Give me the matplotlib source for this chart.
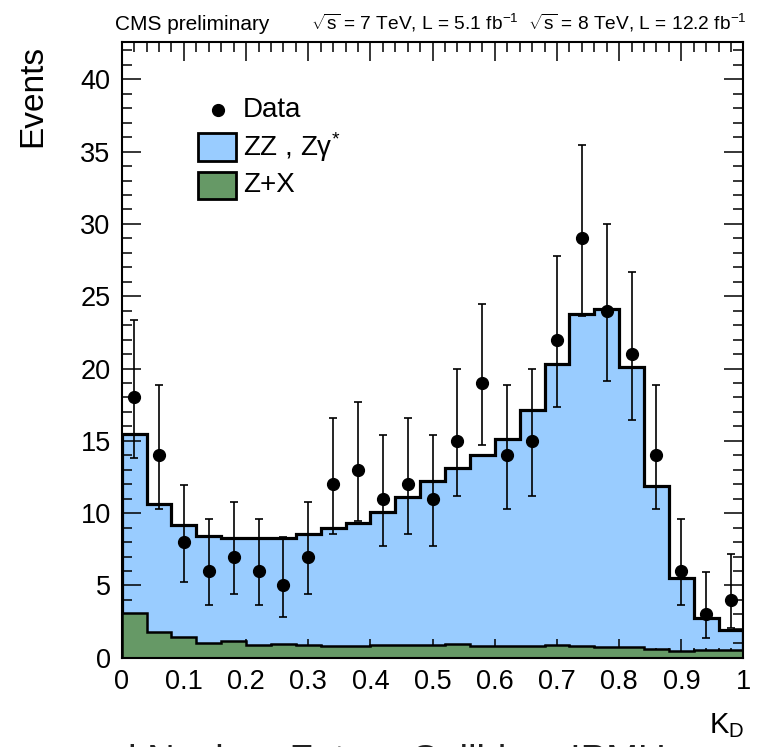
import math
import numpy as np
import matplotlib
matplotlib.use("Agg")
import matplotlib.pyplot as plt
from matplotlib.patches import Rectangle
from matplotlib.ticker import MultipleLocator

plt.rcParams['font.family'] = ['Liberation Sans', 'DejaVu Sans']
plt.rcParams['mathtext.fontset'] = 'custom'
plt.rcParams['mathtext.rm'] = 'Liberation Sans'
plt.rcParams['mathtext.it'] = 'Liberation Sans:italic'
plt.rcParams['mathtext.bf'] = 'Liberation Sans:bold'
plt.rcParams['mathtext.default'] = 'regular'

# ---------------- data ----------------
n_bins = 25
x_range = (0.0, 1.0)
zz_total = [15.5, 10.65, 9.2, 8.4, 8.3, 8.3, 8.3, 8.55, 8.95, 9.35, 10.1, 11.1,
            12.25, 13.15, 14.05, 15.1, 17.1, 20.3, 23.8, 24.1, 20.1, 11.9, 5.5, 2.75, 1.9]
zx = [3.1, 1.8, 1.45, 1.05, 1.15, 0.85, 0.92, 0.85, 0.8, 0.8, 0.85, 0.85,
      0.85, 0.92, 0.82, 0.82, 0.82, 0.9, 0.8, 0.72, 0.72, 0.6, 0.45, 0.55, 0.55]
data = [18, 14, 8, 6, 7, 6, 5, 7, 12, 13, 11, 12, 11, 15, 19, 14, 15, 22, 29, 24,
        21, 14, 6, 3, 4]
x_ticks = [0, 0.1, 0.2, 0.3, 0.4, 0.5, 0.6, 0.7, 0.8, 0.9, 1.0]
x_tick_labels = ['0', '0.1', '0.2', '0.3', '0.4', '0.5', '0.6', '0.7', '0.8', '0.9', '1']
y_ticks = [0, 5, 10, 15, 20, 25, 30, 35, 40]
y_tick_labels = ['0', '5', '10', '15', '20', '25', '30', '35', '40']

# ---------------- Garwood (68.3%) Poisson intervals ----------------
ALPHA2 = 0.5 * (1 - 0.682689)


def pois_cdf(k, mu):
    if k < 0:
        return 0.0
    term = math.exp(-mu)
    s = term
    for i in range(1, k + 1):
        term *= mu / i
        s += term
    return s


def bisect(f, lo, hi):
    for _ in range(100):
        mid = 0.5 * (lo + hi)
        if f(mid) > 0:
            hi = mid
        else:
            lo = mid
    return 0.5 * (lo + hi)


def garwood(n):
    if n == 0:
        lo = 0.0
    else:
        lo = bisect(lambda m: (1 - pois_cdf(n - 1, m)) - ALPHA2, 0.0, n + 50)
    up = bisect(lambda m: ALPHA2 - pois_cdf(n, m), 0.0, n + 50)
    return lo, up


edges = np.linspace(x_range[0], x_range[1], n_bins + 1)
centers = 0.5 * (edges[:-1] + edges[1:])
intervals = [garwood(n) for n in data]
err_lo = [n - lo for n, (lo, up) in zip(data, intervals)]
err_hi = [up - n for n, (lo, up) in zip(data, intervals)]

# ---------------- figure ----------------
fig = plt.figure(figsize=(7.61, 7.47), dpi=100)
ax = fig.add_axes([0.160, 0.1195, 0.817, 0.8247])

blue = '#99ccff'
green = '#669966'

ax.stairs(zz_total, edges, fill=True, color=blue, zorder=1)
ax.stairs(zz_total, edges, color='black', lw=2.3, zorder=1.5)
ax.stairs(zx, edges, fill=True, color=green, zorder=1.6)
ax.stairs(zx, edges, color='black', lw=1.8, zorder=1.7)

ax.errorbar(centers, data, yerr=[err_lo, err_hi], fmt='o', color='black',
            ms=8.5, elinewidth=1.2, capsize=3, capthick=1.2, zorder=3)

ax.set_xlim(x_range)
ax.set_ylim(0, 42.6)
ax.set_xticks(x_ticks)
ax.set_xticklabels(x_tick_labels)
ax.set_yticks(y_ticks)
ax.set_yticklabels(y_tick_labels)
ax.xaxis.set_minor_locator(MultipleLocator(0.02))
ax.yaxis.set_minor_locator(MultipleLocator(1))
ax.tick_params(which='both', direction='in', top=True, right=True,
               labelsize=19.5, width=1.1, color='black')
ax.tick_params(which='major', length=14, pad=8)
ax.tick_params(which='minor', length=7)
for sp in ax.spines.values():
    sp.set_linewidth(1.5)

# legend (ROOT style)
ax.plot([0.1544], [0.889], 'o', color='black', ms=8.5, transform=ax.transAxes,
        clip_on=False, zorder=5)
ax.add_patch(Rectangle((0.1232, 0.8063), 0.0601, 0.046, transform=ax.transAxes,
                       facecolor=blue, edgecolor='black', lw=2, zorder=5))
ax.add_patch(Rectangle((0.1232, 0.7446), 0.0601, 0.0444, transform=ax.transAxes,
                       facecolor=green, edgecolor='black', lw=2, zorder=5))
ax.text(0.195, 0.889, 'Data', transform=ax.transAxes, fontsize=20,
        va='center', ha='left', zorder=5)
ax.text(0.195, 0.829, r'ZZ , Zγ$^{*}$', transform=ax.transAxes, fontsize=20,
        va='center', ha='left', zorder=5)
ax.text(0.195, 0.767, 'Z+X', transform=ax.transAxes, fontsize=20,
        va='center', ha='left', zorder=5)

# titles / labels
fig.text(115 / 761, 1 - 30 / 747, 'CMS preliminary', fontsize=15,
         ha='left', va='baseline')
fig.text(747 / 761, 1 - 30 / 747,
         r'$\sqrt{\mathrm{s}}$ = 7 TeV, L = 5.1 fb$^{-1}$  $\sqrt{\mathrm{s}}$ = 8 TeV, L = 12.2 fb$^{-1}$',
         fontsize=13.8, ha='right', va='baseline')
fig.text(32.5 / 761, 1 - 45 / 747, 'Events', fontsize=24, rotation=90,
         ha='center', va='top')
fig.text(744 / 761, (747 - 733) / 747, r'K$_{\mathrm{D}}$', fontsize=21,
         ha='right', va='baseline')
fig.text(128 / 761, (747 - 772) / 747, 'l Nuclear Future Colliders IPMU',
         fontsize=27.5, ha='left', va='baseline', color='#222222')

fig.savefig('out.png', dpi=100)
